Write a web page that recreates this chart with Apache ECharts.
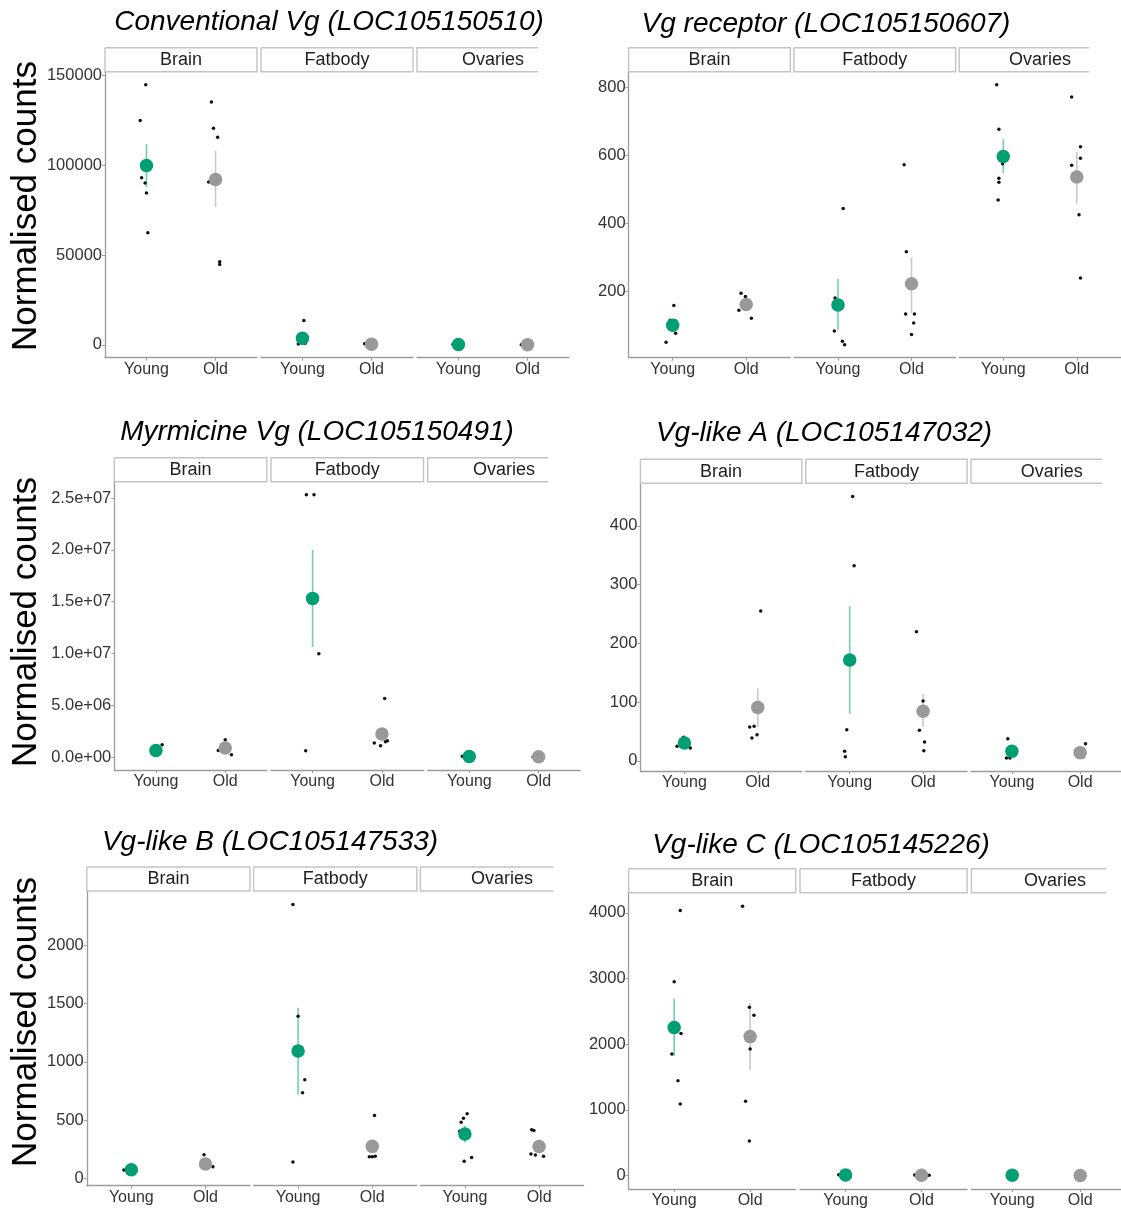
<!DOCTYPE html>
<html><head><meta charset="utf-8">
<script src="https://cdn.jsdelivr.net/npm/echarts@6/dist/echarts.min.js"></script>
<style>html,body{margin:0;padding:0;background:#fff}#c{width:1121px;height:1209px}</style>
</head><body><div id="c"></div>
<script>
// ---------- DATA ----------
const tissues = ['Brain', 'Fatbody', 'Ovaries'];
const ages = ['Young', 'Old'];
const geneTitles = [
  'Conventional Vg (LOC105150510)',
  'Vg receptor (LOC105150607)',
  'Myrmicine Vg (LOC105150491)',
  'Vg-like A (LOC105147032)',
  'Vg-like B (LOC105147533)',
  'Vg-like C (LOC105145226)'
];
const yAxisTitle = 'Normalised counts';
// group order: Brain-Young, Brain-Old, Fatbody-Young, Fatbody-Old, Ovaries-Young, Ovaries-Old

// Conventional Vg
const convVgMeans = [100000, 92200, 3700, 380, 130, 100];
const convVgLow = [88000, 76900, 1700, 320, 110, 85];
const convVgHigh = [112000, 108000, 5700, 450, 150, 120];
const convVgPoints = [
  [145000, 125000, 93150, 90200, 84600, 62400],
  [135400, 120700, 115700, 90700, 46300, 44800],
  [13500, 4000, 2500, 1000, 800, 400],
  [600, 500, 400, 300, 300, 200],
  [200, 150, 140, 100, 100, 80],
  [150, 120, 100, 90, 80, 60]
];
const convVgJitter = [
  [-0.01, -0.09, -0.07, -0.02, 0.0, 0.02],
  [-0.06, -0.03, 0.03, -0.1, 0.06, 0.06],
  [0.02, 0.05, -0.03, 0.0, 0.04, -0.06],
  [-0.1, -0.05, 0.0, 0.03, 0.06, -0.02],
  [-0.08, -0.03, 0.02, 0.05, -0.05, 0.0],
  [-0.06, 0.04, -0.02, 0.07, 0.0, -0.09]
];
const convVgTicks = [0, 50000, 100000, 150000];
const convVgTickLabels = ['0', '50000', '100000', '150000'];

// Vg receptor
const vgrMeans = [101, 162, 161, 223, 597, 537];
const vgrLow = [86, 150, 88, 137, 548, 459];
const vgrHigh = [116, 174, 237, 300, 648, 611];
const vgrPoints = [
  [159, 116, 114, 88, 78, 51],
  [195, 186, 165, 158, 145, 122],
  [444, 181, 84, 54, 44],
  [573, 317, 134, 134, 108, 74],
  [808, 677, 576, 533, 521, 469],
  [772, 626, 592, 571, 426, 240]
];
const vgrJitter = [
  [0.015, -0.035, 0.04, 0.0, 0.04, -0.09],
  [-0.07, -0.01, 0.03, -0.02, -0.1, 0.07],
  [0.07, -0.04, -0.05, 0.06, 0.09],
  [-0.1, -0.07, -0.08, 0.04, 0.03, 0.0],
  [-0.09, -0.06, -0.01, -0.06, -0.06, -0.07],
  [-0.07, 0.05, 0.05, -0.07, 0.03, 0.05]
];
const vgrTicks = [200, 400, 600, 800];
const vgrTickLabels = ['200', '400', '600', '800'];

// Myrmicine Vg
const myrVgMeans = [640000, 870000, 15320000, 2230000, 47000, 37000];
const myrVgLow = [520000, 650000, 10620000, 1700000, 35000, 28000];
const myrVgHigh = [760000, 1090000, 20000000, 2800000, 59000, 46000];
const myrVgPoints = [
  [1190000, 750000, 600000, 500000, 450000, 350000],
  [1670000, 1000000, 900000, 785000, 640000, 225000],
  [25320000, 25320000, 9970000, 611000],
  [5660000, 1350000, 1090000, 1580000, 1480000],
  [80000, 60000, 50000, 40000, 30000, 20000],
  [60000, 50000, 40000, 30000, 25000, 15000]
];
const myrVgJitter = [
  [0.09, 0.03, -0.04, 0.0, -0.06, 0.05],
  [0.0, 0.05, -0.03, 0.02, -0.1, 0.09],
  [-0.09, 0.02, 0.09, -0.1],
  [0.04, -0.11, -0.02, 0.08, 0.05],
  [-0.1, 0.03, -0.04, 0.06, 0.0, -0.07],
  [0.04, -0.05, 0.02, -0.02, 0.07, -0.08]
];
const myrVgTicks = [0, 5e6, 1e7, 1.5e7, 2e7, 2.5e7];
const myrVgTickLabels = ['0.0e+00', '5.0e+06', '1.0e+07', '1.5e+07', '2.0e+07', '2.5e+07'];

// Vg-like A
const vglAMeans = [30.5, 91, 171.6, 84.5, 16.4, 14];
const vglALow = [26, 57.5, 80, 57.5, 10, 10];
const vglAHigh = [35, 123.5, 263.5, 114, 23, 18];
const vglAPoints = [
  [40, 35, 33, 28, 25, 22],
  [255, 59, 57.5, 44.6, 39],
  [450, 332, 53, 16.4, 6.8],
  [219.5, 102, 52, 32, 17],
  [37.8, 18, 16, 5, 5],
  [29, 14, 12, 8, 7]
];
const vglAJitter = [
  [-0.01, 0.04, -0.04, 0.02, -0.1, 0.08],
  [0.04, -0.05, -0.11, -0.01, -0.08],
  [0.04, 0.06, -0.04, -0.07, -0.06],
  [-0.09, 0.0, -0.05, 0.02, 0.01],
  [-0.06, 0.03, -0.02, -0.08, -0.03],
  [0.08, 0.02, -0.05, -0.02, 0.05]
];
const vglATicks = [0, 100, 200, 300, 400];
const vglATickLabels = ['0', '100', '200', '300', '400'];

// Vg-like B
const vglBMeans = [72.5, 121, 1093, 273, 379, 272];
const vglBLow = [60, 100, 720, 215, 307, 215];
const vglBHigh = [85, 142, 1465, 331, 451, 330];
const vglBPoints = [
  [95, 85, 75, 70, 60, 50],
  [201, 120, 110, 105, 98, 92],
  [2354, 1393, 846, 734, 138],
  [538, 184, 187, 183],
  [553, 515, 481, 403, 144, 178],
  [417, 409, 207, 199, 187]
];
const vglBJitter = [
  [0.04, -0.05, 0.02, -0.1, 0.06, -0.04],
  [-0.02, 0.03, -0.05, 0.01, 0.1, -0.03],
  [-0.07, 0.0, 0.09, 0.06, -0.07],
  [0.03, -0.04, 0.04, 0.0],
  [0.03, -0.02, -0.05, -0.07, -0.01, 0.09],
  [-0.1, -0.07, -0.11, -0.05, 0.06]
];
const vglBTicks = [0, 500, 1000, 1500, 2000];
const vglBTickLabels = ['0', '500', '1000', '1500', '2000'];

// Vg-like C
const vglCMeans = [2256, 2116, 9, 6, 5, 4];
const vglCLow = [1823, 1605, 6, 4, 3, 3];
const vglCHigh = [2694, 2628, 12, 8, 7, 5];
const vglCPoints = [
  [4035, 2952, 2162, 1853, 1443, 1089],
  [4101, 2562, 2440, 1929, 1134, 527],
  [15, 12, 10, 8, 6, 5],
  [10, 8, 6, 5, 4, 3],
  [8, 6, 5, 4, 3, 2],
  [6, 5, 4, 3, 2, 2]
];
const vglCJitter = [
  [0.08, 0.0, 0.09, -0.03, 0.05, 0.08],
  [-0.1, -0.01, 0.05, 0.0, -0.06, -0.01],
  [-0.09, 0.03, -0.04, 0.06, 0.0, -0.06],
  [-0.09, 0.1, -0.03, 0.04, 0.0, -0.05],
  [0.02, -0.03, 0.05, -0.06, 0.0, 0.03],
  [-0.04, 0.03, 0.0, 0.06, -0.02, 0.05]
];
const vglCTicks = [0, 1000, 2000, 3000, 4000];
const vglCTickLabels = ['0', '1000', '2000', '3000', '4000'];

// ---------- LAYOUT / STYLE ----------
const FONT = '"Liberation Sans", Arial, Helvetica, sans-serif';
const GREEN = '#009e73', GREY = '#999999';
const GREEN_ERR = '#74cfb2', GREY_ERR = '#c9c9c9';
const AXIS_COL = '#9c9c9c', TEXT_COL = '#333333';
const STRIP_H = 24;

const panels = [
  {means: convVgMeans, low: convVgLow, high: convVgHigh, pts: convVgPoints, jit: convVgJitter, ticks: convVgTicks, tickLabels: convVgTickLabels,
   axisX: 105, facetW: 152, gap: 4, top: 71.7, bottom: 357.7, clip: 538, titleX: 329, titleY: 22, yTitleY: 206},
  {means: vgrMeans, low: vgrLow, high: vgrHigh, pts: vgrPoints, jit: vgrJitter, ticks: vgrTicks, tickLabels: vgrTickLabels,
   axisX: 628.6, facetW: 161.7, gap: 3.6, top: 71.7, bottom: 357.7, clip: 1089, titleX: 826, titleY: 24},
  {means: myrVgMeans, low: myrVgLow, high: myrVgHigh, pts: myrVgPoints, jit: myrVgJitter, ticks: myrVgTicks, tickLabels: myrVgTickLabels,
   axisX: 114.3, facetW: 152.5, gap: 4.2, top: 481.7, bottom: 770, clip: 548, titleX: 317, titleY: 432, yTitleY: 622},
  {means: vglAMeans, low: vglALow, high: vglAHigh, pts: vglAPoints, jit: vglAJitter, ticks: vglATicks, tickLabels: vglATickLabels,
   axisX: 640.4, facetW: 161.4, gap: 3.9, top: 483.3, bottom: 771, clip: 1102, titleX: 824, titleY: 433},
  {means: vglBMeans, low: vglBLow, high: vglBHigh, pts: vglBPoints, jit: vglBJitter, ticks: vglBTicks, tickLabels: vglBTickLabels,
   axisX: 86.8, facetW: 163.2, gap: 3.6, top: 891, bottom: 1185.7, clip: 553.6, titleX: 270, titleY: 842, yTitleY: 1022},
  {means: vglCMeans, low: vglCLow, high: vglCHigh, pts: vglCPoints, jit: vglCJitter, ticks: vglCTicks, tickLabels: vglCTickLabels,
   axisX: 628.6, facetW: 167.1, gap: 4.3, top: 892.7, bottom: 1190, clip: 1106, titleX: 821, titleY: 845}
];

const grid = [], xAxis = [], yAxis = [], series = [], graphic = [];

panels.forEach((p, pi) => {
  const all = [].concat(...p.pts, p.means, p.low, p.high);
  const lo = Math.min(...all), hi = Math.max(...all);
  const pad = 0.05 * (hi - lo);
  const yMin = lo - pad, yMax = hi + pad;

  graphic.push({type: 'text', x: p.titleX, y: p.titleY, silent: true,
    style: {text: geneTitles[pi], fontFamily: FONT, fontSize: 28, fontStyle: 'italic', fill: '#000', align: 'center', verticalAlign: 'middle'}});
  if (p.yTitleY !== undefined) {
    graphic.push({type: 'text', x: 26, y: p.yTitleY, rotation: Math.PI / 2, silent: true,
      style: {text: yAxisTitle, fontFamily: FONT, fontSize: 35, fill: '#000', align: 'center', verticalAlign: 'middle'}});
  }

  tissues.forEach((t, f) => {
    const gi = grid.length;
    const left = p.axisX + f * (p.facetW + p.gap);
    grid.push({left: left, top: p.top, width: p.facetW, height: p.bottom - p.top});

    // strip
    const sx0 = left, sx1 = f === 2 ? Math.min(left + p.facetW, p.clip) : left + p.facetW;
    const sy0 = p.top - STRIP_H, sy1 = p.top;
    graphic.push({type: 'rect', silent: true, shape: {x: sx0, y: sy0, width: sx1 - sx0, height: STRIP_H},
      style: {fill: '#fff', stroke: null}, z: 1});
    const pts = f === 2
      ? [[sx1, sy0], [sx0, sy0], [sx0, sy1], [sx1, sy1]]
      : [[sx0, sy0], [sx1, sy0], [sx1, sy1], [sx0, sy1], [sx0, sy0]];
    graphic.push({type: 'polyline', silent: true, shape: {points: pts},
      style: {stroke: '#c4c4c4', lineWidth: 1.4, fill: null}, z: 2});
    graphic.push({type: 'text', silent: true, x: left + p.facetW / 2, y: sy0 + STRIP_H / 2 + 0.5, z: 3,
      style: {text: t, fontFamily: FONT, fontSize: 18, fill: '#1e1e1e', align: 'center', verticalAlign: 'middle'}});

    xAxis.push({type: 'value', gridIndex: gi, min: 0.4, max: 2.6,
      axisLine: {show: true, onZero: false, lineStyle: {color: AXIS_COL, width: 1.3}},
      axisTick: {show: true, customValues: [1, 2], length: 3, lineStyle: {color: AXIS_COL, width: 1}},
      axisLabel: {show: true, customValues: [1, 2], formatter: v => ages[Math.round(v) - 1], fontFamily: FONT, fontSize: 16, color: TEXT_COL, margin: 4},
      splitLine: {show: false}});

    const showY = f === 0;
    yAxis.push({type: 'value', gridIndex: gi, min: yMin, max: yMax, show: showY,
      axisLine: {show: showY, onZero: false, lineStyle: {color: AXIS_COL, width: 1.3}},
      axisTick: {show: showY, customValues: p.ticks, length: 3, lineStyle: {color: AXIS_COL, width: 1}},
      axisLabel: {show: showY, customValues: p.ticks, formatter: v => {
          const k = p.ticks.findIndex(tv => Math.abs(tv - v) < 1e-6 * Math.max(1, Math.abs(tv)));
          return k >= 0 ? p.tickLabels[k] : '';
        }, fontFamily: FONT, fontSize: 16.5, color: TEXT_COL, margin: 3},
      splitLine: {show: false}});

    const gY = 2 * f, gO = 2 * f + 1;

    series.push({type: 'custom', xAxisIndex: gi, yAxisIndex: gi, z: 2, silent: true,
      data: [[1, p.low[gY], p.high[gY], 0], [2, p.low[gO], p.high[gO], 1]],
      renderItem: (params, api) => {
        const a = api.coord([api.value(0), api.value(1)]);
        const b = api.coord([api.value(0), api.value(2)]);
        return {type: 'line', shape: {x1: a[0], y1: a[1], x2: b[0], y2: b[1]},
          style: {stroke: api.value(3) === 0 ? GREEN_ERR : GREY_ERR, lineWidth: 1.6}};
      }});

    const pointData = [];
    [gY, gO].forEach((g, a) => {
      p.pts[g].forEach((v, i) => pointData.push([a + 1 + p.jit[g][i], v]));
    });
    series.push({type: 'scatter', xAxisIndex: gi, yAxisIndex: gi, data: pointData, symbolSize: 3.5,
      itemStyle: {color: '#111', opacity: 1}, z: 3, silent: true});

    series.push({type: 'scatter', xAxisIndex: gi, yAxisIndex: gi, symbolSize: 13.5, z: 4, silent: true,
      data: [{value: [1, p.means[gY]], itemStyle: {color: GREEN, opacity: 1}}, {value: [2, p.means[gO]], itemStyle: {color: GREY, opacity: 1}}]});
  });
});

const chart = echarts.init(document.getElementById('c'), null, {renderer: 'canvas'});
chart.setOption({animation: false, backgroundColor: '#fff', grid, xAxis, yAxis, series, graphic});
</script>
</body></html>
